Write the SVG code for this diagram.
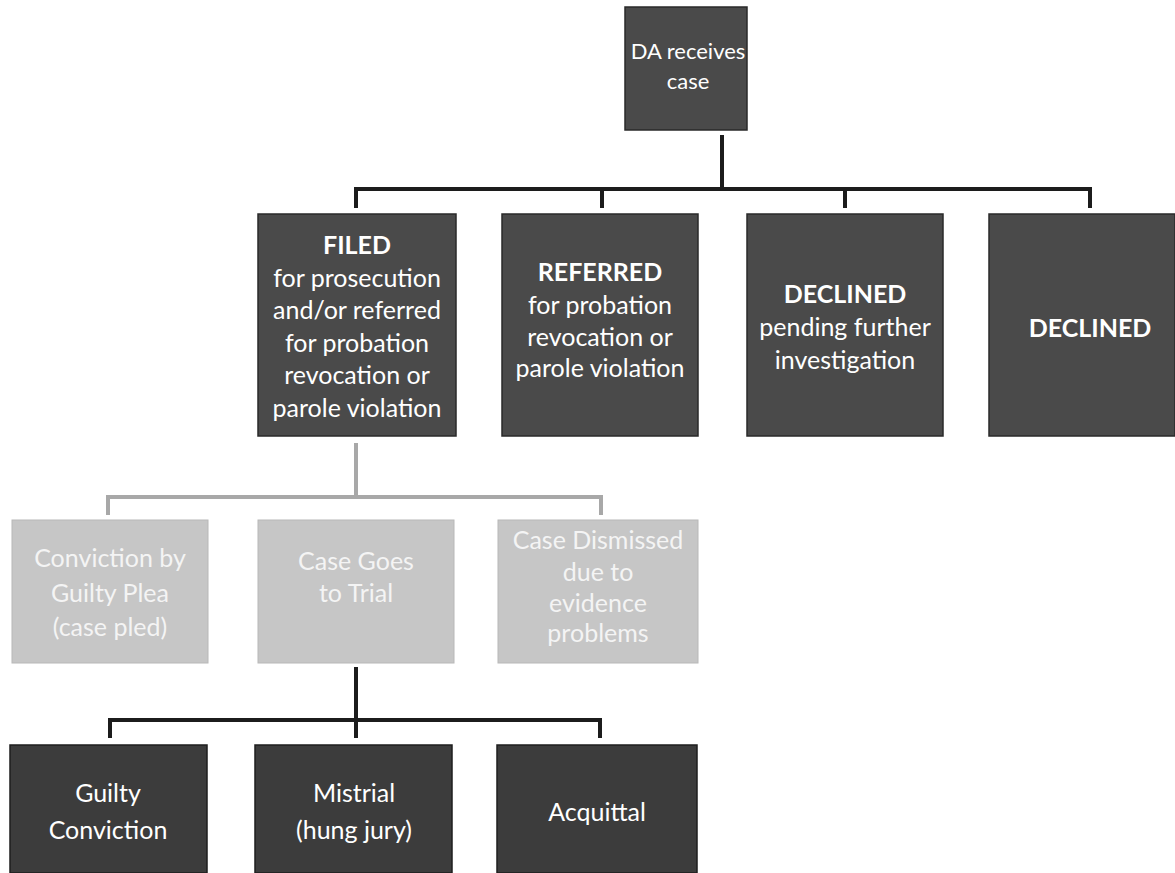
<svg xmlns="http://www.w3.org/2000/svg" width="1175" height="873" viewBox="0 0 1175 873">
<style>
.dark{fill:#4a4a4a;stroke:#2a2a2a;stroke-width:1.5}
.darker{fill:#3c3c3c;stroke:#1e1e1e;stroke-width:1.5}
.light{fill:#c6c6c6;stroke:#b8b8b8;stroke-width:1}
text{font-family:Lato,"Open Sans","Liberation Sans",sans-serif;font-size:25px;fill:#ffffff;text-anchor:middle}
text.sm{font-size:22px}
.b{font-weight:bold}
.lt{fill:#f4f4f4}
.con{fill:none;stroke:#1c1c1c;stroke-width:4}
.gcon{fill:none;stroke:#a8a8a8;stroke-width:4}
</style>
<rect width="1175" height="873" fill="#ffffff"/>
<g id="connectors">
<path class="con" d="M722 135 V189 M356 208 V189 H1090 V208 M602 189 V208 M845 189 V208"/>
<path class="gcon" d="M356 443 V497 M108 515 V497 H601 V515"/>
<path class="con" d="M356 667 V738 M110 738 V720 H600 V738"/>
</g>
<g id="da">
<rect class="dark" x="625" y="7" width="122" height="123"/>
<text class="sm" x="688" y="59">DA receives</text>
<text class="sm" x="688" y="89">case</text>
</g>
<g id="filed">
<rect class="dark" x="258" y="214" width="198" height="222"/>
<text x="357" y="254" class="b">FILED</text>
<text x="357" y="287">for prosecution</text>
<text x="357" y="319">and/or referred</text>
<text x="357" y="352">for probation</text>
<text x="357" y="384">revocation or</text>
<text x="357" y="417">parole violation</text>
</g>
<g id="referred">
<rect class="dark" x="502" y="214" width="196" height="222"/>
<text x="600" y="281" class="b">REFERRED</text>
<text x="600" y="314">for probation</text>
<text x="600" y="346">revocation or</text>
<text x="600" y="377">parole violation</text>
</g>
<g id="declined-pending">
<rect class="dark" x="747" y="214" width="196" height="222"/>
<text x="845" y="303" class="b">DECLINED</text>
<text x="845" y="336">pending further</text>
<text x="845" y="369">investigation</text>
</g>
<g id="declined">
<rect class="dark" x="989" y="214" width="186" height="222"/>
<text x="1090" y="337" class="b">DECLINED</text>
</g>
<g id="guilty-plea">
<rect class="light" x="12" y="520" width="196" height="143"/>
<text class="lt" x="110" y="567">Conviction by</text>
<text class="lt" x="110" y="602">Guilty Plea</text>
<text class="lt" x="110" y="636">(case pled)</text>
</g>
<g id="trial">
<rect class="light" x="258" y="520" width="196" height="143"/>
<text class="lt" x="356" y="570">Case Goes</text>
<text class="lt" x="356" y="602">to Trial</text>
</g>
<g id="dismissed">
<rect class="light" x="498" y="520" width="200" height="143"/>
<text class="lt" x="598" y="549">Case Dismissed</text>
<text class="lt" x="598" y="581">due to</text>
<text class="lt" x="598" y="612">evidence</text>
<text class="lt" x="598" y="642">problems</text>
</g>
<g id="guilty">
<rect class="darker" x="10" y="745" width="197" height="128"/>
<text x="108" y="802">Guilty</text>
<text x="108" y="839">Conviction</text>
</g>
<g id="mistrial">
<rect class="darker" x="255" y="745" width="197" height="128"/>
<text x="354" y="802">Mistrial</text>
<text x="354" y="839">(hung jury)</text>
</g>
<g id="acquittal">
<rect class="darker" x="497" y="745" width="200" height="128"/>
<text x="597" y="821">Acquittal</text>
</g>
</svg>
